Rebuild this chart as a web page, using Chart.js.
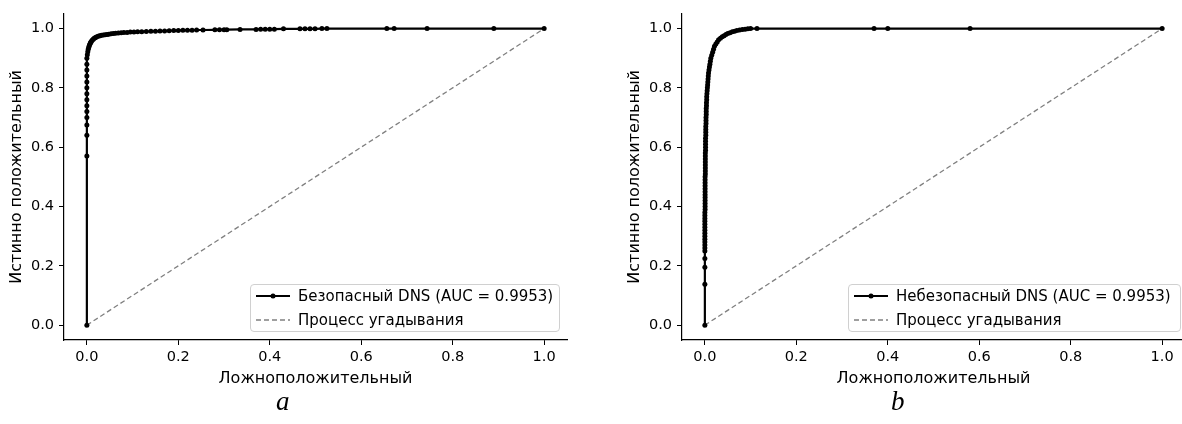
<!DOCTYPE html>
<html>
<head>
<meta charset="utf-8">
<script src="https://cdn.jsdelivr.net/npm/chart.js@4.4.1/dist/chart.umd.min.js"></script>
<style>
  body { margin: 0; width: 1182px; height: 424px; overflow: hidden; background: #fff; position: relative; font-family: 'DejaVu Sans', sans-serif; }
  canvas { position: absolute; top: 0; }
  #rocA { left: 0; }
  #rocB { left: 618px; }
  .legend { position: absolute; top: 284px; height: 48px; box-sizing: border-box; border: 1px solid #d0d0d0; border-radius: 4px; background: rgba(255,255,255,0.85); font-size: 15px; color: #000; }
  .legend .row { position: absolute; left: 4px; height: 20px; display: flex; align-items: center; white-space: nowrap; }
  .legend svg { width: 36px; height: 10px; margin-right: 7px; }
  .sub { position: absolute; top: 386px; font-family: 'Liberation Serif', serif; font-style: italic; font-size: 27px; color: #000; }
</style>
</head>
<body>
<canvas id="rocA" width="591" height="424" style="width:591px;height:424px"></canvas>
<canvas id="rocB" width="573" height="424" style="width:573px;height:424px"></canvas>

<div class="legend" style="left:250px;width:310px">
  <div class="row" style="top:1px"><svg viewBox="0 0 36 10"><line x1="1" y1="5" x2="35" y2="5" stroke="#000" stroke-width="2.2"/><circle cx="18" cy="5" r="2.5" fill="#000"/></svg><span>Безопасный DNS (AUC = 0.9953)</span></div>
  <div class="row" style="top:25px"><svg viewBox="0 0 36 10"><line x1="1" y1="5" x2="35" y2="5" stroke="#808080" stroke-width="1.3" stroke-dasharray="5,3"/></svg><span>Процесс угадывания</span></div>
</div>
<div class="legend" style="left:848px;width:333px">
  <div class="row" style="top:1px"><svg viewBox="0 0 36 10"><line x1="1" y1="5" x2="35" y2="5" stroke="#000" stroke-width="2.2"/><circle cx="18" cy="5" r="2.5" fill="#000"/></svg><span>Небезопасный DNS (AUC = 0.9953)</span></div>
  <div class="row" style="top:25px"><svg viewBox="0 0 36 10"><line x1="1" y1="5" x2="35" y2="5" stroke="#808080" stroke-width="1.3" stroke-dasharray="5,3"/></svg><span>Процесс угадывания</span></div>
</div>

<div class="sub" style="left:276px">a</div>
<div class="sub" style="left:891px">b</div>

<script>
// tick labels shared by both panels
const xTicks = [0, 0.2, 0.4, 0.6, 0.8, 1.0];
const yTicks = [0, 0.2, 0.4, 0.6, 0.8, 1.0];

// guess line
const diagX = [0, 1];
const diagY = [0, 1];

// panel a: safe DNS roc points
const fprSafe = [
  0, 0, 0, 0, 0, 0, 0, 0, 0, 0,
  0, 0, 0, 0, 0,
  0.001, 0.002, 0.003, 0.004, 0.005, 0.006, 0.007, 0.008, 0.009, 0.01,
  0.012, 0.014, 0.016, 0.018, 0.02, 0.023, 0.026, 0.029, 0.032, 0.036,
  0.04, 0.044, 0.048, 0.053, 0.058, 0.063, 0.069, 0.075, 0.081, 0.088,
  0.095, 0.103, 0.111, 0.12, 0.13, 0.14, 0.15, 0.16, 0.17, 0.18,
  0.19, 0.2, 0.21, 0.22, 0.23,
  0.24, 0.254, 0.28, 0.29, 0.3, 0.306, 0.335, 0.37, 0.38, 0.39,
  0.4, 0.41, 0.43, 0.466, 0.477, 0.488, 0.499, 0.514, 0.525, 0.656,
  0.672, 0.744, 0.89, 1.0
];
const tprSafe = [
  0, 0.57, 0.64, 0.675, 0.7, 0.72, 0.74, 0.76, 0.78, 0.8,
  0.82, 0.84, 0.86, 0.88, 0.9,
  0.912, 0.922, 0.93, 0.936, 0.941, 0.945, 0.949, 0.952, 0.955, 0.957,
  0.961, 0.964, 0.967, 0.969, 0.971, 0.973, 0.975, 0.976, 0.977, 0.978,
  0.979, 0.98, 0.981, 0.982, 0.983, 0.984, 0.985, 0.986, 0.9865, 0.987,
  0.988, 0.9885, 0.989, 0.9895, 0.99, 0.9905, 0.991, 0.9915, 0.992, 0.9925,
  0.993, 0.9935, 0.994, 0.9943, 0.9946,
  0.995, 0.995, 0.9955, 0.996, 0.996, 0.996, 0.997, 0.997, 0.998, 0.998,
  0.998, 0.998, 0.999, 0.999, 0.999, 0.999, 0.999, 1.0, 1.0, 1.0,
  1.0, 1.0, 1.0, 1.0
];

// panel b: unsafe DNS roc points
const fprUnsafe = [
  0, 0, 0, 0, 0, 0, 0, 0, 0, 0,
  0, 0, 0, 0, 0, 0, 0, 0, 0.0005, 0.0005,
  0.0005, 0.0005, 0.0005, 0.0005, 0.0005, 0.0005, 0.0005, 0.0005, 0.0005, 0.0005,
  0.001, 0.001, 0.001, 0.001, 0.001, 0.001, 0.001, 0.001, 0.0015, 0.0015,
  0.0015, 0.0015, 0.0015, 0.002, 0.002, 0.002, 0.002, 0.0025, 0.0025, 0.0025,
  0.003, 0.003, 0.003, 0.0035, 0.0035, 0.004, 0.004, 0.0045, 0.005, 0.0055,
  0.006, 0.0065, 0.007, 0.0075, 0.008, 0.009, 0.01, 0.011, 0.012, 0.013,
  0.015, 0.017, 0.019, 0.021, 0.024, 0.027, 0.03, 0.034, 0.038, 0.042,
  0.046, 0.05, 0.055, 0.06, 0.065, 0.07, 0.076, 0.082, 0.088, 0.094,
  0.1, 0.114, 0.37, 0.4, 0.58, 1.0
];
const tprUnsafe = [
  0, 0.138, 0.195, 0.225, 0.25, 0.26, 0.27, 0.28, 0.29, 0.30,
  0.31, 0.32, 0.33, 0.34, 0.35, 0.36, 0.37, 0.38, 0.39, 0.40,
  0.41, 0.42, 0.43, 0.44, 0.45, 0.46, 0.47, 0.48, 0.49, 0.50,
  0.51, 0.52, 0.53, 0.54, 0.55, 0.56, 0.57, 0.58, 0.59, 0.60,
  0.61, 0.62, 0.63, 0.64, 0.65, 0.66, 0.67, 0.68, 0.69, 0.70,
  0.71, 0.72, 0.73, 0.74, 0.75, 0.76, 0.77, 0.78, 0.79, 0.80,
  0.81, 0.82, 0.83, 0.84, 0.85, 0.86, 0.87, 0.88, 0.89, 0.90,
  0.91, 0.92, 0.93, 0.94, 0.948, 0.955, 0.962, 0.967, 0.972, 0.976,
  0.98, 0.983, 0.986, 0.989, 0.991, 0.993, 0.995, 0.997, 0.998, 0.999,
  1.0, 1.0, 1.0, 1.0, 1.0, 1.0
];

const tickFont = { family: 'DejaVu Sans', size: 14.5 };
const titleFont = { family: 'DejaVu Sans', size: 16 };

function toPoints(xs, ys) {
  return xs.map((x, i) => ({ x: x, y: ys[i] }));
}

function makeRoc(canvasId, label, fpr, tpr, rightPad) {
  new Chart(document.getElementById(canvasId), {
    type: 'scatter',
    data: {
      datasets: [
        {
          label: label,
          data: toPoints(fpr, tpr),
          showLine: true,
          borderColor: '#000',
          borderWidth: 2.2,
          pointRadius: 2.5,
          pointBackgroundColor: '#000',
          pointBorderWidth: 0,
        },
        {
          label: 'Процесс угадывания',
          data: toPoints(diagX, diagY),
          showLine: true,
          borderColor: '#808080',
          borderWidth: 1.3,
          borderDash: [5, 3],
          pointRadius: 0,
        },
      ],
    },
    options: {
      responsive: false,
      animation: false,
      devicePixelRatio: 1,
      layout: { padding: { left: 0, top: 13, right: rightPad, bottom: 34 } },
      plugins: {
        legend: { display: false },
        tooltip: { enabled: false },
      },
      scales: {
        x: {
          type: 'linear',
          min: -0.05,
          max: 1.05,
          afterBuildTicks: (s) => { s.ticks = xTicks.map((v) => ({ value: v })); },
          afterFit: (s) => { s.height = 50; },
          ticks: { color: '#000', font: tickFont, padding: 4, maxRotation: 0, callback: (v) => v.toFixed(1) },
          grid: { display: true, drawOnChartArea: false, drawTicks: true, tickLength: 5, color: '#000' },
          border: { display: true, color: '#000', width: 1.2 },
          title: { display: true, text: 'Ложноположительный', color: '#000', font: titleFont, padding: { top: 0, bottom: 2 } },
        },
        y: {
          type: 'linear',
          min: -0.05,
          max: 1.05,
          afterBuildTicks: (s) => { s.ticks = yTicks.map((v) => ({ value: v })); },
          afterFit: (s) => { s.width = 64; },
          ticks: { color: '#000', font: tickFont, padding: 5, callback: (v) => v.toFixed(1) },
          grid: { display: true, drawOnChartArea: false, drawTicks: true, tickLength: 5, color: '#000' },
          border: { display: true, color: '#000', width: 1.2 },
          title: { display: true, text: 'Истинно положительный', color: '#000', font: titleFont, padding: { top: 7, bottom: 0 } },
        },
      },
    },
  });
}

makeRoc('rocA', 'Безопасный DNS (AUC = 0.9953)', fprSafe, tprSafe, 24);
makeRoc('rocB', 'Небезопасный DNS (AUC = 0.9953)', fprUnsafe, tprUnsafe, 6);
</script>
</body>
</html>
